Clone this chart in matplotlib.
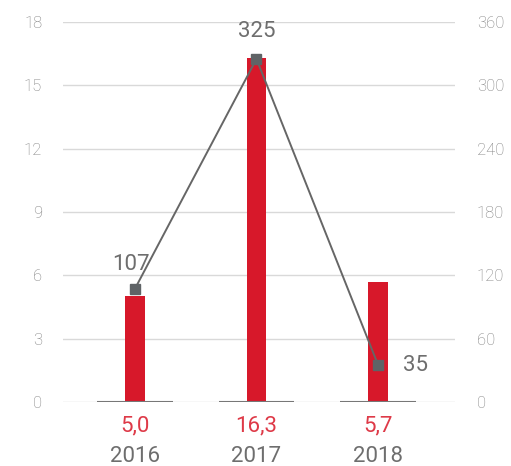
import matplotlib.pyplot as plt
import numpy as np

# данные
years = ['2016', '2017', '2018']
bar_values = [5.0, 16.3, 5.7]
bar_labels = ['5,0', '16,3', '5,7']
line_values = [107, 325, 35]

red = '#d7182a'
gray_line = '#666666'
text_gray = '#7f7f7f'

plt.rcParams['font.family'] = ['Roboto', 'DejaVu Sans']

fig = plt.figure(figsize=(5.11, 4.66), dpi=100)
ax = fig.add_axes([0.1233, 0.1373, 0.7667, 0.8155])
ax2 = ax.twinx()

x = np.arange(len(years))

# сетка
for v in range(0, 19, 3):
    ax.axhline(v, color='#d9d9d9', lw=1, zorder=0)

ax.bar(x, bar_values, width=0.16, color=red, zorder=2)
ax.hlines([0] * len(x), x - 0.31, x + 0.31, color='#777777', lw=1.5, zorder=3)

ax2.plot(x, line_values, color=gray_line, lw=1.4, marker='s', ms=7,
         markerfacecolor='#5f6366', markeredgecolor='#5f6366', zorder=4)

ax.set_xlim(-0.59, 2.63)
ax.set_ylim(0, 18)
ax2.set_ylim(0, 360)
ax.set_yticks(range(0, 19, 3))
ax2.set_yticks(range(0, 361, 60))

for a in (ax, ax2):
    for s in a.spines.values():
        s.set_visible(False)
    a.tick_params(length=0, labelsize=12, colors=text_gray)
    for t in a.get_yticklabels():
        t.set_fontweight('light')
ax.tick_params(axis='y', pad=15)
ax2.tick_params(axis='y', pad=16)
ax.set_xticks([])

# подписи точек линии
offsets = [(-3, 10, 'center', 'bottom'), (0, 12, 'center', 'bottom'), (18, 0, 'left', 'center')]
for xi, v, (dx, dy, ha, va) in zip(x, line_values, offsets):
    ax2.annotate(str(v), (xi, v), xytext=(dx, dy), textcoords='offset points',
                 ha=ha, va=va, fontsize=16, color='#6e6e6e', zorder=5)

# подписи снизу
for xi, lab, yr in zip(x, bar_labels, years):
    ax.annotate(lab, (xi, 0), xytext=(0, -17), textcoords='offset points',
                ha='center', va='center', fontsize=16, color='#de3a48')
    ax.annotate(yr, (xi, 0), xytext=(0, -39), textcoords='offset points',
                ha='center', va='center', fontsize=16, color='#6e6e6e')

fig.savefig('out.png', dpi=100)
